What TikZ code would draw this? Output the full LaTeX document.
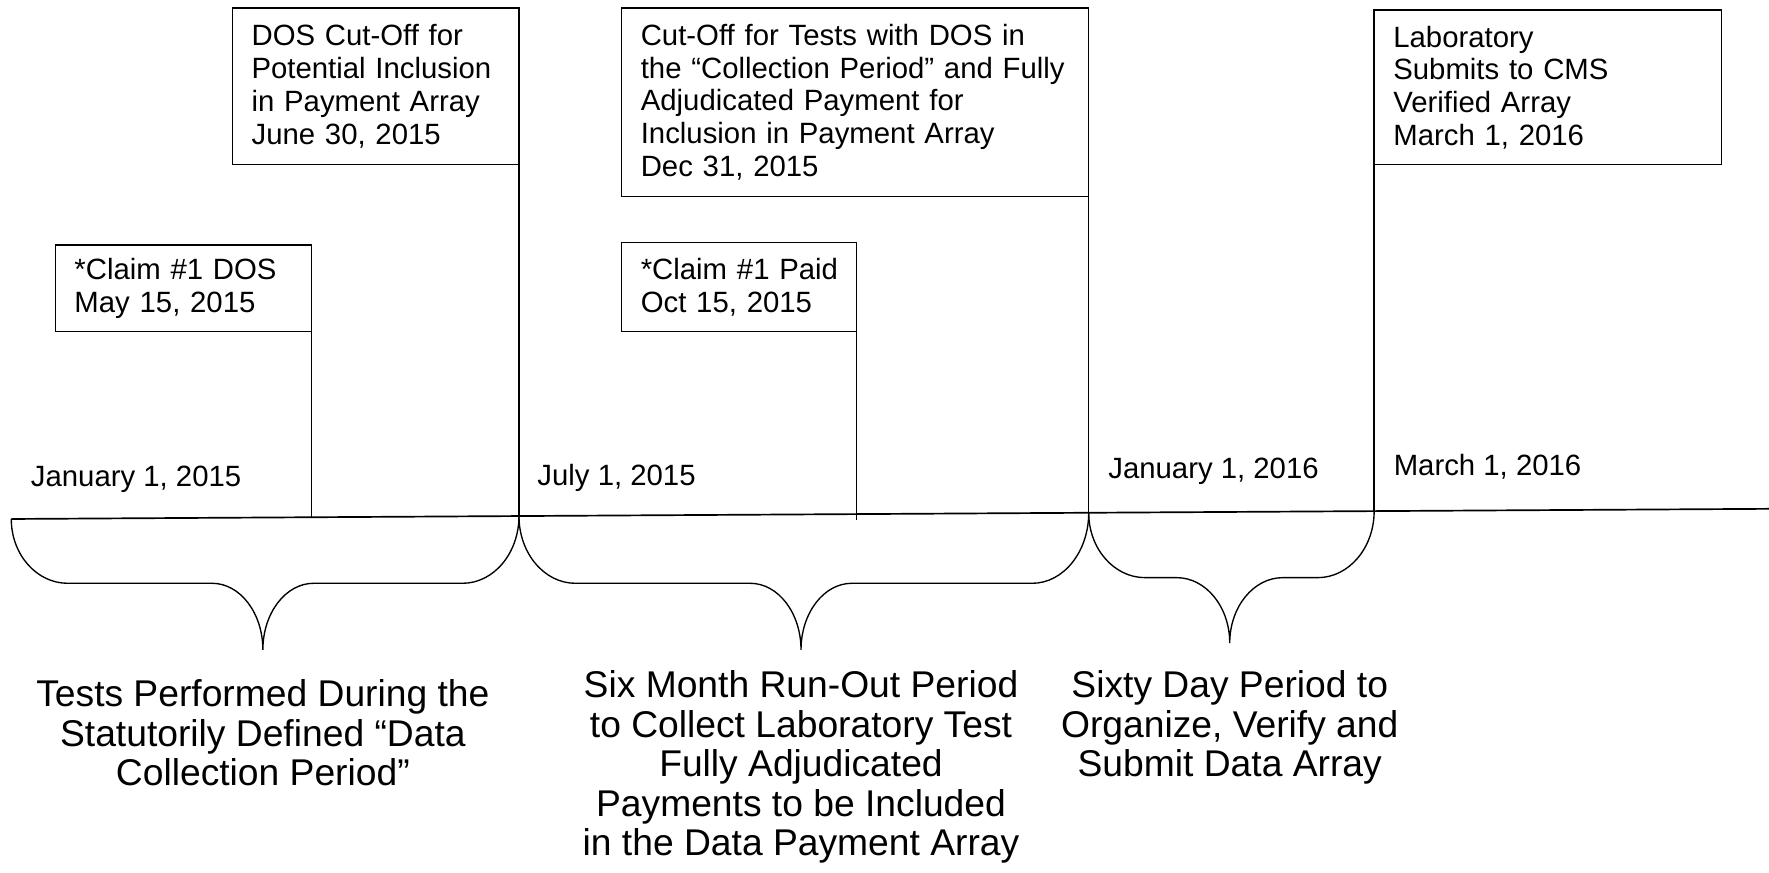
\documentclass[tikz,border=0pt]{standalone}
\usepackage{fontspec}
\setmainfont{Liberation Sans}

% Curly bracket hanging below the time line:
% #1,#2 left end  #3,#4 right end  #5 flat level  #6,#7 tip  #8 corner width  #9 tip width
\newcommand{\periodbrace}[9]{%
  \draw[bracket] (#1,#2) .. controls (#1,{#2+0.552*(#5-#2)}) and ({#1+0.448*#8},#5) .. ({#1+#8},#5)
    -- ({#6-#9},#5) .. controls ({#6-0.448*#9},#5) and (#6,{#7-0.552*(#7-#5)}) .. (#6,#7)
    .. controls (#6,{#7-0.552*(#7-#5)}) and ({#6+0.448*#9},#5) .. ({#6+#9},#5)
    -- ({#3-#8},#5) .. controls ({#3-0.448*#8},#5) and (#3,{#4+0.552*(#5-#4)}) .. (#3,#4);}

\begin{document}
\begin{tikzpicture}[x=0.5pt,y=-0.5pt,
  event/.style={draw, line width=0.6pt, anchor=north west, align=left,
    inner xsep=8.5pt, inner ysep=0pt, outer sep=0pt,
    font=\fontsize{13}{14.5}\selectfont},
  datelabel/.style={anchor=west, inner sep=0pt, font=\fontsize{13}{15}\selectfont},
  period/.style={anchor=north, inner sep=0pt, align=center,
    font=\fontsize{16.5}{17.5}\selectfont},
  stem/.style={line width=0.6pt},
  timeline/.style={line width=0.75pt},
  bracket/.style={line width=0.6pt},
]
\useasboundingbox (0,0) rectangle (1568,773);

% points on the time line
\coordinate (tA) at (10,460);
\coordinate (t1) at (276,458.5);
\coordinate (t2) at (460,457.4);
\coordinate (t3) at (759,461);
\coordinate (t4) at (965,454.5);
\coordinate (t5) at (1218,453.0);
\coordinate (tB) at (1568,451);

% event boxes
\node[event, text width=96.5pt, minimum height=38.5pt] (claimdos) at (49,217)
  {*Claim \#1 DOS\\May 15, 2015};
\node[event, text width=110pt, minimum height=69.5pt] (doscut) at (206,7)
  {DOS Cut-Off for\\Potential Inclusion\\in Payment Array\\June 30, 2015};
\node[event, text width=190pt, minimum height=83.5pt] (testcut) at (551,7)
  {Cut-Off for Tests with DOS in\\the “Collection Period” and Fully\\Adjudicated Payment for\\Inclusion in Payment Array\\Dec 31, 2015};
\node[event, text width=87pt, minimum height=39.5pt] (claimpaid) at (551,215)
  {*Claim~\#1~Paid\\Oct 15, 2015};
\node[event, text width=137pt, minimum height=68.5pt] (labsubmit) at (1218,9)
  {Laboratory\\Submits to CMS\\Verified Array\\March 1, 2016};

% time line and stems
\draw[timeline] (tA) -- (tB);
\draw[stem] (claimdos.south east) -- (t1);
\draw[stem] (doscut.south east) -- (t2);
\draw[stem] (claimpaid.south east) -- (t3);
\draw[stem] (testcut.south east) -- (t4);
\draw[stem] (labsubmit.south west) -- (t5);

% dates above the line
\node[datelabel] (d1) at (27,425) {January 1, 2015};
\node[datelabel] (d2) at (476,424) {July 1, 2015};
\node[datelabel] (d3) at (982,418) {January 1, 2016};
\node[datelabel] (d4) at (1235,414) {March 1, 2016};

% periods
\periodbrace{10}{460}{460}{457.4}{517}{233}{576}{50}{45}
\periodbrace{460}{457.4}{965}{454.5}{517}{710}{576}{50}{45}
\periodbrace{965}{454.5}{1218}{453.0}{512}{1090}{570}{50}{47}

\node[period] (p1) at (233,602)
  {Tests Performed During the\\Statutorily Defined “Data\\Collection Period”};
\node[period] (p2) at (710,594)
  {Six Month Run-Out Period\\to Collect Laboratory Test\\Fully Adjudicated\\Payments to be Included\\in the Data Payment Array};
\node[period] (p3) at (1090,594)
  {Sixty Day Period to\\Organize, Verify and\\Submit Data Array};
\end{tikzpicture}
\end{document}
